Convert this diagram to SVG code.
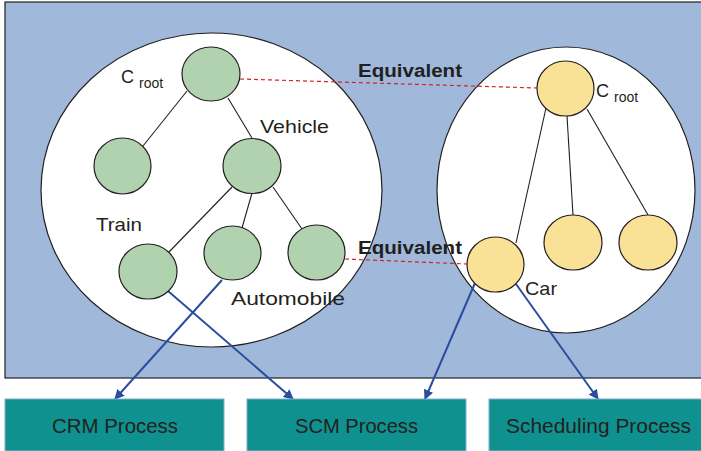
<svg xmlns="http://www.w3.org/2000/svg" width="701" height="451" viewBox="0 0 701 451">
<defs>
<marker id="ah" markerWidth="10" markerHeight="10" refX="9" refY="5" orient="auto" markerUnits="userSpaceOnUse">
<path d="M0,0 L10,5 L0,10 z" fill="#2b4da0"/>
</marker>
<style>
.lbl{font-family:"Liberation Sans",Arial,sans-serif;fill:#231f20}
.g{fill:#b1d2ae;stroke:#231f20;stroke-width:1.2}
.y{fill:#f9e196;stroke:#231f20;stroke-width:1.2}
.edge{stroke:#231f20;stroke-width:1.1;fill:none}
.eq{stroke:#d6202a;stroke-width:1.2;stroke-dasharray:4,3;fill:none}
.flow{stroke:#2b4da0;stroke-width:2;fill:none;marker-end:url(#ah)}
.box{fill:#0e918f;stroke:#7fb0d0;stroke-width:1}
</style>
</defs>
<rect x="5" y="2" width="700" height="376" fill="#a0b8da" stroke="#231f20" stroke-width="1.2"/>
<g id="ontology-left">
<ellipse cx="211.5" cy="190" rx="170.5" ry="157" fill="#fff" stroke="#231f20" stroke-width="1.2"/>
</g>
<g id="ontology-right">
<ellipse cx="566" cy="190" rx="129" ry="143" fill="#fff" stroke="#231f20" stroke-width="1.2"/>
</g>
<g id="connectors">
<line class="edge" x1="187" y1="91" x2="143" y2="146"/>
<line class="edge" x1="228" y1="98" x2="252" y2="138"/>
<line class="edge" x1="232" y1="187" x2="169" y2="252"/>
<line class="edge" x1="252" y1="193" x2="242" y2="228"/>
<line class="edge" x1="273" y1="187" x2="302" y2="229"/>
<line class="edge" x1="546" y1="108" x2="516" y2="243"/>
<line class="edge" x1="567" y1="116" x2="573" y2="215"/>
<line class="edge" x1="587" y1="109" x2="648" y2="215"/>
<line class="eq" x1="240" y1="79" x2="537" y2="88"/>
<line class="eq" x1="345" y1="259" x2="467" y2="264"/>
<line class="flow" x1="222" y1="280" x2="115" y2="399"/>
<line class="flow" x1="168" y1="291" x2="293" y2="399"/>
<line class="flow" x1="475" y1="283" x2="425" y2="399"/>
<line class="flow" x1="516" y1="284" x2="598" y2="399"/>
</g>
<g id="left-root"><ellipse class="g" cx="211" cy="74" rx="29" ry="27"/></g>
<g id="train"><ellipse class="g" cx="122.5" cy="166" rx="28.5" ry="28"/></g>
<g id="vehicle"><ellipse class="g" cx="252" cy="166" rx="29" ry="27.5"/></g>
<g id="left-leaf-1"><ellipse class="g" cx="148" cy="271.5" rx="29" ry="27.5"/></g>
<g id="automobile"><ellipse class="g" cx="232.5" cy="253" rx="28.5" ry="27"/></g>
<g id="left-leaf-3"><ellipse class="g" cx="316.5" cy="252.5" rx="28.5" ry="27.5"/></g>
<g id="right-root"><ellipse class="y" cx="565.5" cy="88.5" rx="28.5" ry="27.5"/></g>
<g id="car"><ellipse class="y" cx="495.5" cy="264.5" rx="28.5" ry="27.5"/></g>
<g id="right-leaf-2"><ellipse class="y" cx="573" cy="242.5" rx="29" ry="27.5"/></g>
<g id="right-leaf-3"><ellipse class="y" cx="648" cy="242.5" rx="29" ry="27.5"/></g>
<g id="labels">
<text class="lbl" x="121" y="83" font-size="18">C</text>
<text class="lbl" x="139" y="88" font-size="14">root</text>
<text class="lbl" x="260" y="133" font-size="19" textLength="69" lengthAdjust="spacingAndGlyphs">Vehicle</text>
<text class="lbl" x="96" y="231" font-size="19" textLength="46" lengthAdjust="spacingAndGlyphs">Train</text>
<text class="lbl" x="231" y="305" font-size="19" textLength="114" lengthAdjust="spacingAndGlyphs">Automobile</text>
<text class="lbl" x="358" y="77" font-size="18" font-weight="bold" textLength="104" lengthAdjust="spacingAndGlyphs">Equivalent</text>
<text class="lbl" x="358" y="254" font-size="18" font-weight="bold" textLength="104" lengthAdjust="spacingAndGlyphs">Equivalent</text>
<text class="lbl" x="596" y="97" font-size="18">C</text>
<text class="lbl" x="614" y="102" font-size="14">root</text>
<text class="lbl" x="525" y="295" font-size="19" textLength="32" lengthAdjust="spacingAndGlyphs">Car</text>
</g>
<g id="crm"><rect class="box" x="5" y="399" width="219" height="52"/>
<text class="lbl" x="52" y="433" font-size="20" textLength="126" lengthAdjust="spacingAndGlyphs">CRM Process</text></g>
<g id="scm"><rect class="box" x="247" y="399" width="219" height="52"/>
<text class="lbl" x="295" y="433" font-size="20" textLength="123" lengthAdjust="spacingAndGlyphs">SCM Process</text></g>
<g id="scheduling"><rect class="box" x="489" y="399" width="216" height="52"/>
<text class="lbl" x="506" y="433" font-size="20" textLength="185" lengthAdjust="spacingAndGlyphs">Scheduling Process</text></g>
</svg>
